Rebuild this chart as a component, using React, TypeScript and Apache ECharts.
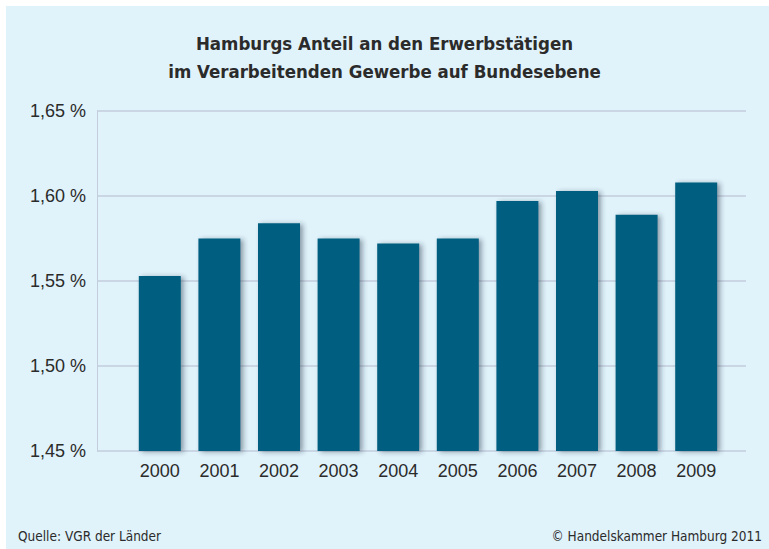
import React, { useEffect, useRef } from "react";
import * as echarts from "echarts";

const years = ["2000", "2001", "2002", "2003", "2004", "2005", "2006", "2007", "2008", "2009"];
const shares = [1.553, 1.575, 1.584, 1.575, 1.572, 1.575, 1.597, 1.603, 1.589, 1.608];
const yTicks = [1.45, 1.5, 1.55, 1.6, 1.65];
const titleLines = ["Hamburgs Anteil an den Erwerbstätigen", "im Verarbeitenden Gewerbe auf Bundesebene"];
const sourceText = "Quelle: VGR der Länder";
const copyrightText = "© Handelskammer Hamburg 2011";

const fmt = (v: number) => v.toFixed(2).replace(".", ",") + " %";

export default function App() {
  const ref = useRef<HTMLDivElement>(null);
  useEffect(() => {
    document.body.style.margin = "0";
    if (!ref.current) return;
    const chart = echarts.init(ref.current, undefined, { renderer: "svg" });
    const yMin = yTicks[0];
    const yMax = yTicks[yTicks.length - 1];
    const interval = yTicks[1] - yTicks[0];
    const narrow = "'Liberation Sans Narrow', 'DejaVu Sans Condensed', sans-serif";
    chart.setOption({
      animation: false,
      backgroundColor: "#ffffff",
      graphic: [
        { type: "rect", z: -10, shape: { x: 6, y: 6, width: 769, height: 549 }, style: { fill: "#e0f2fa" } },
        {
          type: "text", left: "center", top: 29,
          style: { text: titleLines.join("\n"), font: "bold 18.5px " + narrow, fill: "#2b2b2b", textAlign: "center", lineHeight: 28 },
        },
        { type: "text", left: 18, top: 529, style: { text: sourceText, font: "13.5px " + narrow, fill: "#2b2b2b" } },
        { type: "text", right: 7, top: 529, style: { text: copyrightText, font: "13.5px " + narrow, fill: "#2b2b2b" } },
      ],
      grid: [
        { left: 97, right: 23, top: 111, bottom: 98 },
        { left: 130, right: 43, top: 111, bottom: 98 },
      ],
      xAxis: [
        { type: "category", gridIndex: 0, data: years, show: false },
        {
          type: "category", gridIndex: 1, data: years,
          axisLine: { show: false }, axisTick: { show: false },
          axisLabel: { color: "#2b2b2b", fontSize: 18, fontFamily: "'Liberation Sans', Arial, sans-serif", margin: 11 },
        },
      ],
      yAxis: [
        {
          type: "value", gridIndex: 0, min: yMin, max: yMax, interval,
          axisLine: { show: true, lineStyle: { color: "#c3cddd", width: 1 } },
          axisTick: { show: false },
          splitLine: { show: true, lineStyle: { color: "#c3cddd", width: 1.5 } },
          axisLabel: { color: "#2b2b2b", fontSize: 18, fontFamily: "'Liberation Sans', Arial, sans-serif", margin: 11, formatter: (v: number) => fmt(v) },
        },
        {
          type: "value", gridIndex: 1, min: yMin, max: yMax, interval,
          show: false, splitLine: { show: false },
        },
      ],
      series: [
        {
          type: "bar", xAxisIndex: 1, yAxisIndex: 1, data: shares, barWidth: 42,
          itemStyle: { color: "#005f80", shadowBlur: 5, shadowColor: "rgba(40,50,70,0.45)", shadowOffsetX: 3, shadowOffsetY: 1 },
        },
      ],
    });
    return () => chart.dispose();
  }, []);
  return <div ref={ref} style={{ width: 769, height: 549 }} />;
}
